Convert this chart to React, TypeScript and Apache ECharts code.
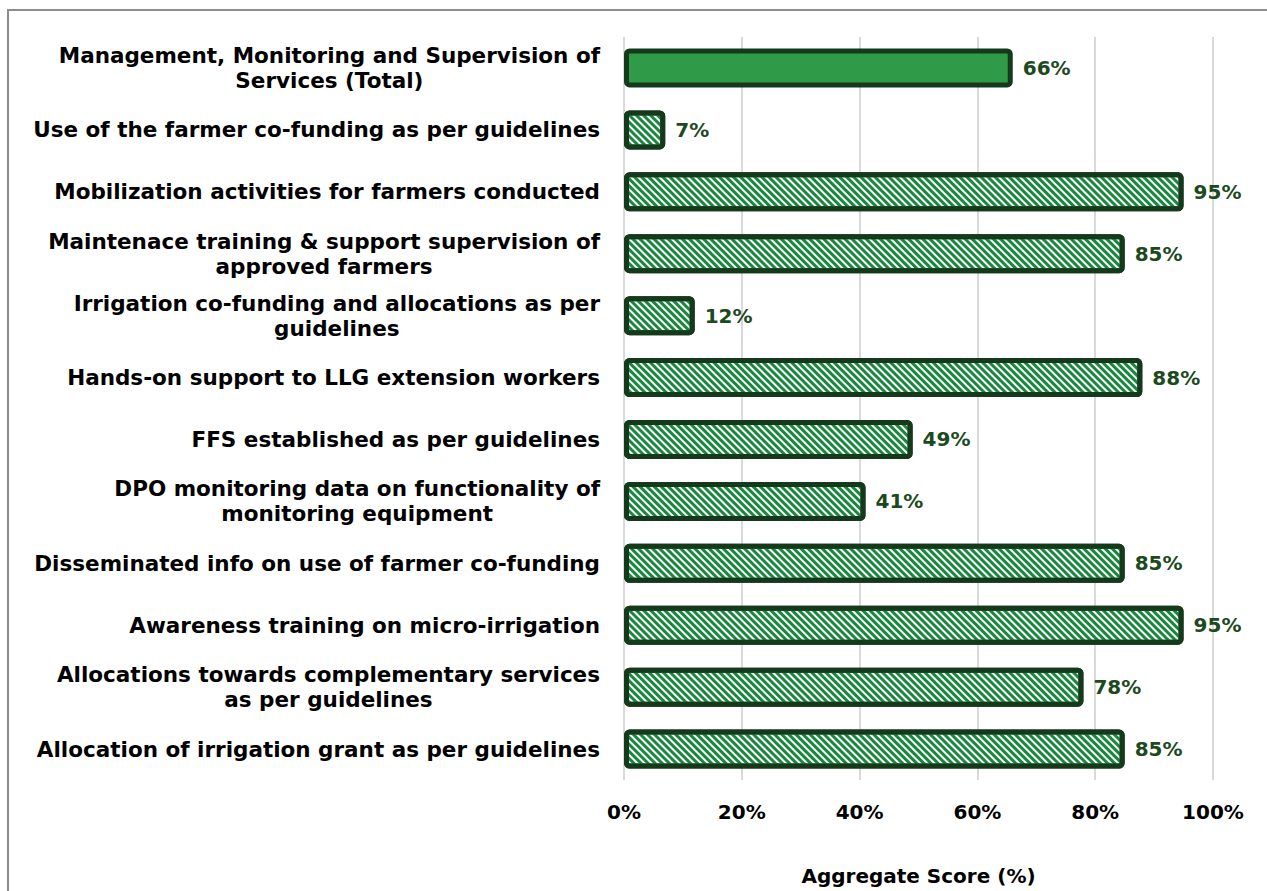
import React, { useEffect, useRef } from "react";
import * as echarts from "echarts";

const categories: string[] = [
  "Management, Monitoring and Supervision of\nServices (Total)",
  "Use of the farmer co-funding as per guidelines",
  "Mobilization activities for farmers conducted",
  "Maintenace training & support supervision of\napproved farmers",
  "Irrigation co-funding and allocations as per\nguidelines",
  "Hands-on support to LLG extension workers",
  "FFS established as per guidelines",
  "DPO monitoring data on functionality of\nmonitoring equipment",
  "Disseminated info on use of farmer co-funding",
  "Awareness training on micro-irrigation",
  "Allocations towards complementary services\nas per guidelines",
  "Allocation of irrigation grant as per guidelines",
];

const scores: number[] = [66, 7, 95, 85, 12, 88, 49, 41, 85, 95, 78, 85];

const totalIndex = 0;

const xTicks: number[] = [0, 20, 40, 60, 80, 100];

const axisTitle = "Aggregate Score (%)";

const FONT = "DejaVu Sans";

export default function App() {
  const ref = useRef<HTMLDivElement>(null);

  useEffect(() => {
    if (!ref.current) return;
    const chart = echarts.init(ref.current, undefined, { renderer: "svg" });

    const totalData = scores.map((v, i) => (i === totalIndex ? v : "-"));
    const itemData = scores.map((v, i) => (i === totalIndex ? "-" : v));

    const labelStyle = {
      show: true,
      position: "right" as const,
      distance: 10,
      formatter: "{c}%",
      color: "#1b4a20",
      fontFamily: FONT,
      fontWeight: "bold" as const,
      fontSize: 20,
    };

    chart.setOption({
      animation: false,
      backgroundColor: "#ffffff",
      graphic: [
        {
          type: "rect",
          shape: { x: 8, y: 10, width: 1300, height: 900 },
          style: { fill: "none", stroke: "#8c8c8c", lineWidth: 2 },
          silent: true,
          z: -10,
        },
      ],
      grid: {
        left: 624,
        right: 54,
        top: 37,
        bottom: 110,
        containLabel: false,
      },
      xAxis: {
        type: "value",
        min: xTicks[0],
        max: xTicks[xTicks.length - 1],
        interval: xTicks[1] - xTicks[0],
        axisLine: { show: false },
        axisTick: { show: false },
        splitLine: { show: true, lineStyle: { color: "#d9d9d9", width: 2 } },
        axisLabel: {
          formatter: "{value}%",
          color: "#000000",
          fontFamily: FONT,
          fontWeight: "bold",
          fontSize: 20,
          margin: 22,
        },
        name: axisTitle,
        nameLocation: "middle",
        nameGap: 86,
        nameTextStyle: {
          color: "#000000",
          fontFamily: FONT,
          fontWeight: "bold",
          fontSize: 20,
        },
      },
      yAxis: {
        type: "category",
        inverse: true,
        data: categories,
        axisLine: { show: false },
        axisTick: { show: false },
        splitLine: { show: false },
        axisLabel: {
          margin: 24,
          align: "right",
          fontFamily: FONT,
          fontWeight: "bold",
          fontSize: 21.5,
          color: "#000000",
          lineHeight: 25,
          formatter: (val: string) =>
            val
              .split("\n")
              .map((l) => `{c|${l}}`)
              .join("\n"),
          rich: {
            c: {
              align: "center",
              fontFamily: FONT,
              fontWeight: "bold",
              fontSize: 21.5,
              color: "#000000",
              lineHeight: 25,
            },
          },
        },
      },
      series: [
        {
          type: "bar",
          name: "total",
          data: totalData,
          barWidth: 39,
          barGap: "-100%",
          itemStyle: {
            color: "#2f9a48",
            borderColor: "#15391b",
            borderWidth: 5,
            borderRadius: 3,
          },
          label: labelStyle,
        },
        {
          type: "bar",
          name: "items",
          data: itemData,
          barWidth: 39,
          barGap: "-100%",
          itemStyle: {
            color: "#ffffff",
            borderColor: "#15391b",
            borderWidth: 5,
            borderRadius: 3,
            decal: {
              symbol: "rect",
              symbolSize: 1,
              color: "#1a873f",
              dashArrayX: [1, 0],
              dashArrayY: [3, 2],
              rotation: Math.PI / 4,
            },
          },
          label: labelStyle,
        },
      ],
    });

    return () => chart.dispose();
  }, []);

  return (
    <div
      ref={ref}
      style={{ position: "fixed", left: 0, top: 0, width: 1267, height: 891 }}
    />
  );
}
